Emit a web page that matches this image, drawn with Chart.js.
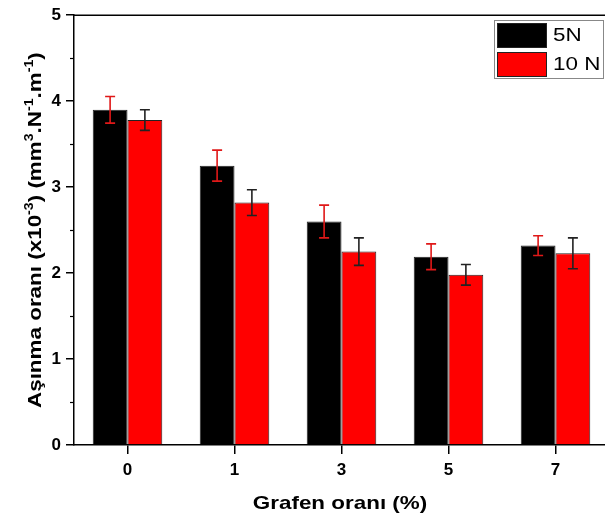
<!DOCTYPE html>
<html>
<head>
<meta charset="utf-8">
<script src="https://cdn.jsdelivr.net/npm/chart.js@4/dist/chart.umd.min.js"></script>
<style>
  html, body { margin: 0; padding: 0; background: #fff; }
  #wrap { width: 605px; height: 517px; overflow: hidden; position: relative; }
  #box { width: 620px; height: 517px; }
</style>
</head>
<body>
<div id="wrap"><div id="box"><canvas id="wear-chart"></canvas></div></div>
<script>
(function() {
  'use strict';

  // ── Data ──
  var categories = ['0', '1', '3', '5', '7'];
  var wear5N = [3.90, 3.25, 2.60, 2.19, 2.32];
  var err5N = [0.155, 0.18, 0.19, 0.15, 0.115];
  var wear10N = [3.78, 2.82, 2.25, 1.98, 2.23];
  var err10N = [0.12, 0.15, 0.16, 0.12, 0.18];
  var yTicks = [0, 1, 2, 3, 4, 5];

  var FONT = "'Liberation Sans', Arial, sans-serif";
  var STRETCH = 1.18; // text in the figure is a bit wider than Arial

  // ── Error bars, drawn with the y scale ──
  var errorBars = {
    id: 'errorBars',
    afterDatasetsDraw: function(chart) {
      var ctx = chart.ctx;
      var y = chart.scales.y;
      chart.data.datasets.forEach(function(ds, di) {
        var meta = chart.getDatasetMeta(di);
        ctx.save();
        ctx.strokeStyle = ds.errColor;
        ctx.lineWidth = 1.6;
        meta.data.forEach(function(bar, i) {
          var v = ds.data[i], e = ds.errors[i];
          var top = y.getPixelForValue(v + e);
          var bot = y.getPixelForValue(v - e);
          ctx.beginPath();
          ctx.moveTo(bar.x, top); ctx.lineTo(bar.x, bot);
          ctx.moveTo(bar.x - 5, top); ctx.lineTo(bar.x + 5, top);
          ctx.moveTo(bar.x - 5, bot); ctx.lineTo(bar.x + 5, bot);
          ctx.stroke();
        });
        ctx.restore();
      });
    }
  };

  // ── Frame top line, minor ticks, titles, legend ──
  var decorations = {
    id: 'decorations',
    afterDraw: function(chart) {
      var ctx = chart.ctx;
      var a = chart.chartArea;
      var y = chart.scales.y;
      ctx.save();
      ctx.strokeStyle = '#000';
      ctx.lineWidth = 1.5;
      ctx.beginPath();
      ctx.moveTo(a.left, a.top); ctx.lineTo(a.right, a.top);
      ctx.lineTo(a.right, a.bottom);
      ctx.stroke();

      // minor ticks at half steps
      ctx.lineWidth = 1.2;
      for (var k = 0; k < yTicks.length - 1; k++) {
        var py = Math.round(y.getPixelForValue(yTicks[k] + 0.5)) + 0.5;
        ctx.beginPath();
        ctx.moveTo(a.left - 4, py); ctx.lineTo(a.left, py);
        ctx.stroke();
      }

      // y title with superscripts (rotated)
      var parts = [
        ['A\u015f\u0131nma oran\u0131 (x10', 0], ['-3', 1], [') (mm', 0], ['3', 1],
        ['.N', 0], ['-1', 1], ['.m', 0], ['-1', 1], [')', 0]
      ];
      var big = 'bold 19px ' + FONT, small = 'bold 12px ' + FONT;
      var total = 0;
      parts.forEach(function(p) { ctx.font = p[1] ? small : big; total += ctx.measureText(p[0]).width; });
      ctx.translate(41, (a.top + a.bottom) / 2);
      ctx.rotate(-Math.PI / 2);
      ctx.scale(STRETCH, 1);
      ctx.fillStyle = '#000';
      ctx.textBaseline = 'alphabetic';
      ctx.textAlign = 'left';
      var x = -total / 2;
      parts.forEach(function(p) {
        ctx.font = p[1] ? small : big;
        ctx.fillText(p[0], x, p[1] ? -8 : 0);
        x += ctx.measureText(p[0]).width;
      });
      ctx.restore();

      // x title
      ctx.save();
      ctx.fillStyle = '#000';
      ctx.font = 'bold 19px ' + FONT;
      ctx.textAlign = 'center';
      ctx.textBaseline = 'alphabetic';
      ctx.translate(340, 509);
      ctx.scale(STRETCH, 1);
      ctx.fillText('Grafen oran\u0131 (%)', 0, 0);
      ctx.restore();

      // legend
      ctx.save();
      ctx.strokeStyle = '#888';
      ctx.lineWidth = 1;
      ctx.strokeRect(494.5, 20.5, 109, 58);
      chart.data.datasets.forEach(function(ds, i) {
        var ty = 23 + i * 29;
        ctx.fillStyle = ds.backgroundColor;
        ctx.fillRect(497, ty, 50, 25);
        ctx.strokeStyle = '#222';
        ctx.strokeRect(497.5, ty + 0.5, 49, 24);
        ctx.save();
        ctx.fillStyle = '#000';
        ctx.font = '19px ' + FONT;
        ctx.textAlign = 'left';
        ctx.textBaseline = 'middle';
        ctx.translate(553, ty + 13);
        ctx.scale(STRETCH, 1);
        ctx.fillText(ds.label, 0, 0);
        ctx.restore();
      });
      ctx.restore();
    }
  };

  var ctx = document.getElementById('wear-chart').getContext('2d');
  new Chart(ctx, {
    type: 'bar',
    data: {
      labels: categories,
      datasets: [
        {
          label: '5N',
          data: wear5N,
          errors: err5N,
          errColor: '#e01818',
          backgroundColor: '#000000',
          borderColor: '#222',
          borderWidth: 1,
          categoryPercentage: 0.65,
          barPercentage: 1.0
        },
        {
          label: '10 N',
          data: wear10N,
          errors: err10N,
          errColor: '#222',
          backgroundColor: '#ff0000',
          borderColor: '#222',
          borderWidth: 1,
          categoryPercentage: 0.65,
          barPercentage: 1.0
        }
      ]
    },
    options: {
      responsive: true,
      maintainAspectRatio: false,
      animation: false,
      layout: { padding: { top: 14, right: 11, left: 0, bottom: 0 } },
      plugins: { legend: { display: false }, tooltip: { enabled: false } },
      scales: {
        x: {
          grid: { offset: false, drawOnChartArea: false, drawTicks: true, tickLength: 9, color: '#000', lineWidth: 1.5 },
          border: { display: true, color: '#000', width: 1.5 },
          ticks: { color: '#000', font: { family: FONT, size: 17, weight: 'bold' }, padding: 6 },
          afterFit: function(s) { s.height = 72; }
        },
        y: {
          min: 0,
          max: 5,
          grid: { drawOnChartArea: false, drawTicks: true, tickLength: 8, color: '#000', lineWidth: 1.5 },
          border: { display: true, color: '#000', width: 1.5 },
          ticks: {
            stepSize: 1,
            color: '#000',
            font: { family: FONT, size: 17, weight: 'bold' },
            padding: 5,
            callback: function(v) { return yTicks.indexOf(v) >= 0 ? String(v) : ''; }
          },
          afterFit: function(s) { s.width = 74; }
        }
      }
    },
    plugins: [errorBars, decorations]
  });
})();
</script>
</body>
</html>
